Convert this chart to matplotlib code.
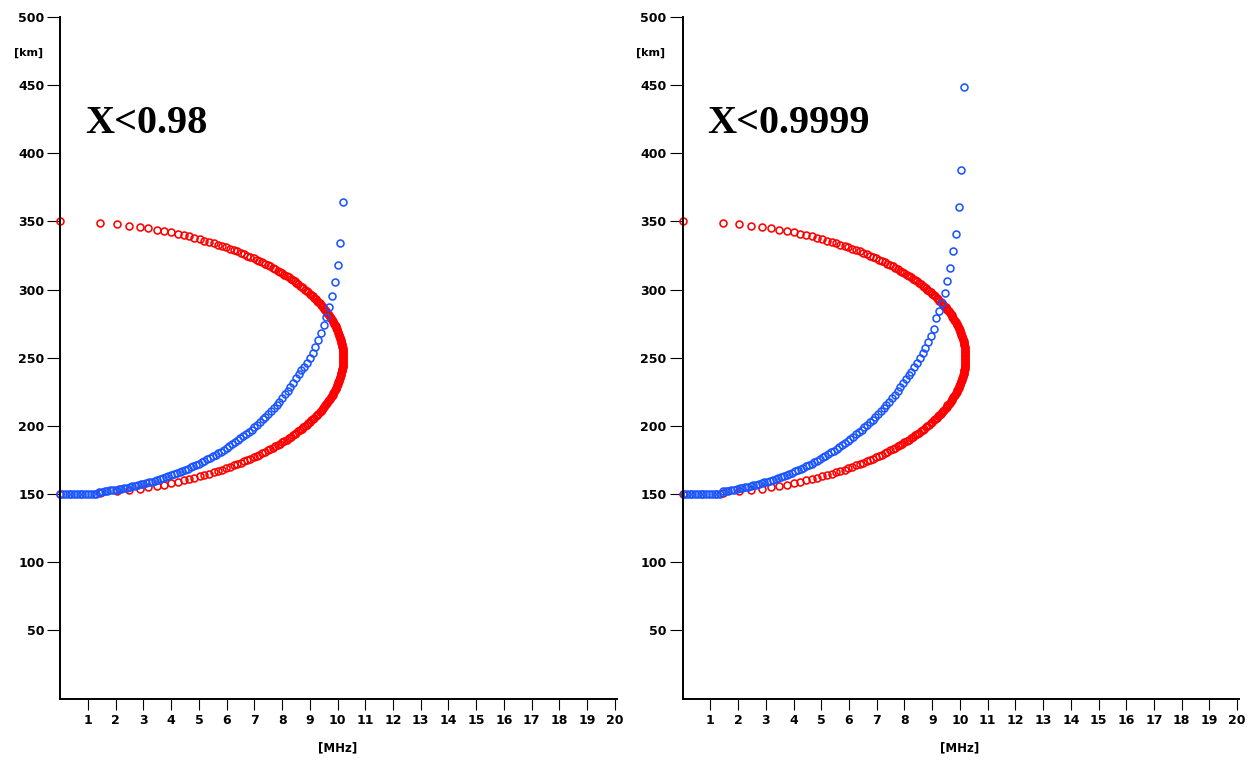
import numpy as np
import matplotlib.pyplot as plt

# red: true height profile (parabolic layer), heights in km and plasma frequency in MHz
red_h_lower = [150, 151, 152, 153, 154, 155, 156, 157, 158, 159, 160, 161, 162, 163, 164, 165, 166, 167, 168, 169,
               170, 171, 172, 173, 174, 175, 176, 177, 178, 179, 180, 181, 182, 183, 184, 185, 186, 187, 188, 189,
               190, 191, 192, 193, 194, 195, 196, 197, 198, 199, 200, 201, 202, 203, 204, 205, 206, 207, 208, 209,
               210, 211, 212, 213, 214, 215, 216, 217, 218, 219, 220, 221, 222, 223, 224, 225, 226, 227, 228, 229,
               230, 231, 232, 233, 234, 235, 236, 237, 238, 239, 240, 241, 242, 243, 244, 245, 246, 247, 248, 249,
               250]
red_f_lower = [0.00, 1.44, 2.03, 2.48, 2.86, 3.18, 3.48, 3.75, 4.00, 4.23, 4.45, 4.65, 4.84, 5.03, 5.20, 5.37,
               5.53, 5.69, 5.84, 5.98, 6.12, 6.25, 6.38, 6.51, 6.63, 6.75, 6.86, 6.97, 7.08, 7.18, 7.28, 7.38,
               7.48, 7.57, 7.66, 7.75, 7.84, 7.92, 8.00, 8.08, 8.16, 8.24, 8.31, 8.38, 8.45, 8.52, 8.58, 8.65,
               8.71, 8.77, 8.83, 8.89, 8.95, 9.00, 9.06, 9.11, 9.16, 9.21, 9.26, 9.30, 9.35, 9.39, 9.43, 9.48,
               9.52, 9.55, 9.59, 9.63, 9.66, 9.70, 9.73, 9.76, 9.79, 9.82, 9.85, 9.88, 9.90, 9.93, 9.95, 9.97,
               9.99, 10.01, 10.03, 10.05, 10.07, 10.08, 10.10, 10.11, 10.13, 10.14, 10.15, 10.16, 10.17, 10.18,
               10.18, 10.19, 10.19, 10.20, 10.20, 10.20, 10.20]
red_h_upper = [251, 252, 253, 254, 255, 256, 257, 258, 259, 260, 261, 262, 263, 264, 265, 266, 267, 268, 269, 270,
               271, 272, 273, 274, 275, 276, 277, 278, 279, 280, 281, 282, 283, 284, 285, 286, 287, 288, 289, 290,
               291, 292, 293, 294, 295, 296, 297, 298, 299, 300, 301, 302, 303, 304, 305, 306, 307, 308, 309, 310,
               311, 312, 313, 314, 315, 316, 317, 318, 319, 320, 321, 322, 323, 324, 325, 326, 327, 328, 329, 330,
               331, 332, 333, 334, 335, 336, 337, 338, 339, 340, 341, 342, 343, 344, 345, 346, 347, 348, 349, 350]
red_f_upper = [10.20, 10.20, 10.20, 10.19, 10.19, 10.18, 10.18, 10.17, 10.16, 10.15, 10.14, 10.13, 10.11, 10.10,
               10.08, 10.07, 10.05, 10.03, 10.01, 9.99, 9.97, 9.95, 9.93, 9.90, 9.88, 9.85, 9.82, 9.79, 9.76,
               9.73, 9.70, 9.66, 9.63, 9.59, 9.55, 9.52, 9.48, 9.43, 9.39, 9.35, 9.30, 9.26, 9.21, 9.16, 9.11,
               9.06, 9.00, 8.95, 8.89, 8.83, 8.77, 8.71, 8.65, 8.58, 8.52, 8.45, 8.38, 8.31, 8.24, 8.16, 8.08,
               8.00, 7.92, 7.84, 7.75, 7.66, 7.57, 7.48, 7.38, 7.28, 7.18, 7.08, 6.97, 6.86, 6.75, 6.63, 6.51,
               6.38, 6.25, 6.12, 5.98, 5.84, 5.69, 5.53, 5.37, 5.20, 5.03, 4.84, 4.65, 4.45, 4.23, 4.00, 3.75,
               3.48, 3.18, 2.86, 2.48, 2.03, 1.44, 0.00]

# blue: virtual height, left panel (X<0.98)
left_f = [0.0, 0.1, 0.2, 0.3, 0.4, 0.5, 0.6, 0.7, 0.8, 0.9, 1.0, 1.1, 1.2, 1.3, 1.4, 1.5, 1.6, 1.7, 1.8, 1.9,
          2.0, 2.1, 2.2, 2.3, 2.4, 2.5, 2.6, 2.7, 2.8, 2.9, 3.0, 3.1, 3.2, 3.3, 3.4, 3.5, 3.6, 3.7, 3.8, 3.9,
          4.0, 4.1, 4.2, 4.3, 4.4, 4.5, 4.6, 4.7, 4.8, 4.9, 5.0, 5.1, 5.2, 5.3, 5.4, 5.5, 5.6, 5.7, 5.8, 5.9,
          6.0, 6.1, 6.2, 6.3, 6.4, 6.5, 6.6, 6.7, 6.8, 6.9, 7.0, 7.1, 7.2, 7.3, 7.4, 7.5, 7.6, 7.7, 7.8, 7.9,
          8.0, 8.1, 8.2, 8.3, 8.4, 8.5, 8.6, 8.7, 8.8, 8.9, 9.0, 9.1, 9.2, 9.3, 9.4, 9.5, 9.6, 9.7, 9.8, 9.9,
          10.0, 10.1, 10.2]
left_h = [150, 150, 150, 150, 150, 150, 150, 150, 150, 150, 150, 150, 150, 150,
          151.5, 151.8, 152.1, 152.4, 152.7, 153.0,
          153.3, 153.7, 154.0, 154.4, 154.8, 155.2, 155.6, 156.1, 156.6, 157.1,
          157.6, 158.1, 158.6, 159.2, 159.8, 160.4, 161.1, 161.7, 162.4, 163.1,
          163.8, 164.6, 165.3, 166.1, 166.9, 167.8, 168.6, 169.5, 170.4, 171.4,
          172.4, 173.4, 174.4, 175.4, 176.5, 177.6, 178.8, 180.0, 181.2, 182.5,
          183.7, 185.1, 186.5, 187.9, 189.4, 190.8, 192.3, 193.9, 195.6, 197.3,
          199.0, 200.9, 202.8, 204.7, 206.7, 208.7, 210.9, 213.2, 215.5, 217.9,
          220.5, 223.1, 225.8, 228.7, 231.8, 234.9, 237.8, 240.7, 243.4, 246.1,
          249.7, 253.5, 258.0, 263.0, 268.0, 274.0, 280.0, 287.5, 295.0, 305.5,
          318.0, 334.0, 364.0]

# blue: virtual height, right panel (X<0.9999)
right_f = [0.05, 0.15, 0.25, 0.35, 0.45, 0.55, 0.65, 0.75, 0.85, 0.95, 1.05, 1.15, 1.25, 1.35,
           1.45, 1.55, 1.65, 1.75, 1.85, 1.95,
           2.05, 2.15, 2.25, 2.35, 2.45, 2.55, 2.65, 2.75, 2.85, 2.95,
           3.05, 3.15, 3.25, 3.35, 3.45, 3.55, 3.65, 3.75, 3.85, 3.95,
           4.05, 4.15, 4.25, 4.35, 4.45, 4.55, 4.65, 4.75, 4.85, 4.95,
           5.05, 5.15, 5.25, 5.35, 5.45, 5.55, 5.65, 5.75, 5.85, 5.95,
           6.05, 6.15, 6.25, 6.35, 6.45, 6.55, 6.65, 6.75, 6.85, 6.95,
           7.05, 7.15, 7.25, 7.35, 7.45, 7.55, 7.65, 7.75, 7.85, 7.95,
           8.05, 8.15, 8.25, 8.35, 8.45, 8.55, 8.65, 8.75, 8.85, 8.95,
           9.05, 9.15, 9.25, 9.35, 9.45, 9.55, 9.65, 9.75, 9.85, 9.95,
           10.05, 10.15]
right_h = [150, 150, 150, 150, 150, 150, 150, 150, 150, 150, 150, 150, 150, 150,
           152.0, 152.3, 152.6, 153.0, 153.3, 153.7,
           154.1, 154.5, 154.9, 155.4, 155.9, 156.4, 156.9, 157.4, 158.0, 158.6,
           159.2, 159.8, 160.5, 161.2, 161.9, 162.6, 163.4, 164.2, 165.0, 165.8,
           166.7, 167.6, 168.5, 169.4, 170.4, 171.4, 172.4, 173.5, 174.6, 175.7,
           176.9, 178.1, 179.3, 180.6, 181.9, 183.2, 184.6, 186.0, 187.5, 189.0,
           190.5, 192.1, 193.8, 195.5, 197.2, 198.9, 200.8, 202.7, 204.6, 206.7,
           208.8, 211.0, 213.2, 215.5, 217.9, 220.4, 223.0, 225.7, 228.5, 231.4,
           234.5, 237.0, 239.9, 243.0, 246.3, 249.7, 253.4, 257.3, 261.5, 266.0,
           271.1, 279.0, 284.0, 290.0, 297.5, 306.5, 315.5, 328.0, 341.0, 360.5,
           388.0, 448.5]

x_ticks = list(range(1, 21))
y_ticks = [50, 100, 150, 200, 250, 300, 350, 400, 450, 500]
titles = ['X<0.98', 'X<0.9999']

RED = '#ff0000'
BLUE = '#1a55ff'


def draw_panel(ax, f_blue, h_blue, title):
    mk = dict(linestyle='none', marker='o', markerfacecolor='none', markersize=5.0,
              markeredgewidth=1.15, clip_on=False)
    ax.plot(red_f_lower, red_h_lower, markeredgecolor=RED, **mk)
    ax.plot(red_f_upper, red_h_upper, markeredgecolor=RED, **mk)
    ax.plot(f_blue, h_blue, markeredgecolor=BLUE, **mk)

    ax.set_xlim(0, 20.07)
    ax.set_ylim(0, 500)
    for side in ['top', 'right']:
        ax.spines[side].set_visible(False)
    for side in ['left', 'bottom']:
        ax.spines[side].set_linewidth(1.4)
        ax.spines[side].set_color('black')

    ax.set_xticks(x_ticks)
    ax.set_yticks(y_ticks)
    ax.tick_params(axis='x', direction='out', length=8, width=0.8, pad=3.5, labelsize=9)
    ax.tick_params(axis='y', direction='out', length=9.5, width=0.8, pad=2, labelsize=9)
    for lab in ax.get_xticklabels() + ax.get_yticklabels():
        lab.set_fontweight('bold')

    ax.text(-1.15, 474, '[km]', ha='center', va='center', fontsize=8, fontweight='bold', clip_on=False)
    ax.text(10, -36, '[MHz]', ha='center', va='center', fontsize=8.5, fontweight='bold', clip_on=False)
    ax.text(0.9, 414.7, title, ha='left', va='baseline', fontsize=29, fontweight='bold',
            family='Liberation Serif')


fig = plt.figure(figsize=(12.5, 7.6), dpi=100)
ax1 = fig.add_axes([60.3 / 1250, 61.5 / 760, 556.4 / 1250, 681.5 / 760])
ax2 = fig.add_axes([682.7 / 1250, 61.5 / 760, 556.4 / 1250, 681.5 / 760])

draw_panel(ax1, left_f, left_h, titles[0])
draw_panel(ax2, right_f, right_h, titles[1])

fig.savefig('out.png', dpi=100)
